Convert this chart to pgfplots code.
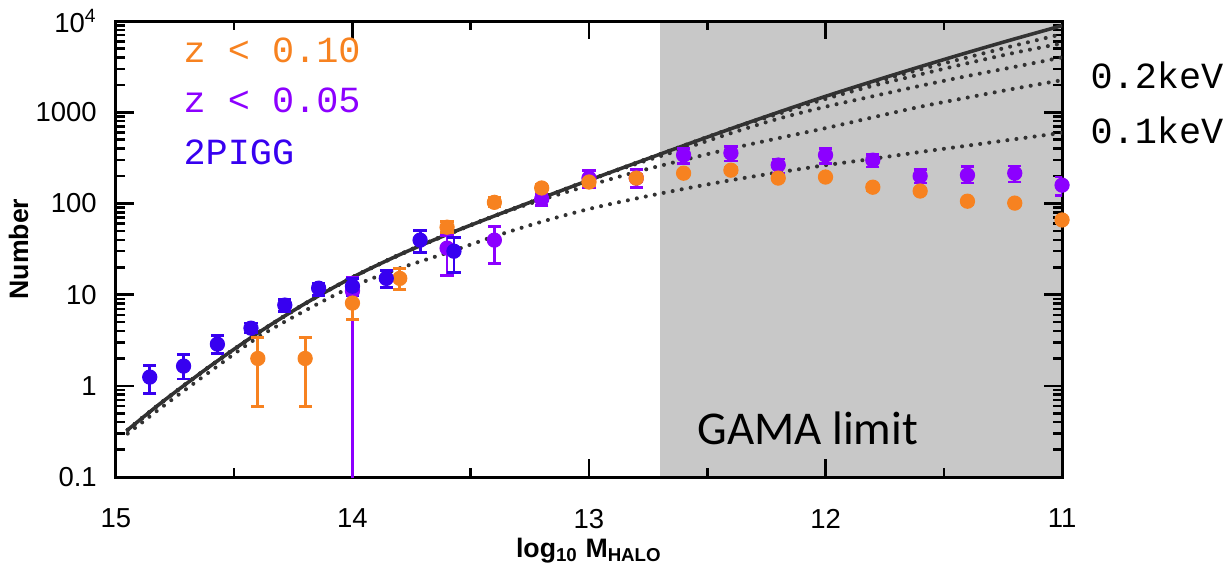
\documentclass[border=0pt]{standalone}
\usepackage{fontspec}
\setmainfont{Liberation Sans}
\newfontfamily\monofont{Liberation Mono}
\newfontfamily\calibfont{Carlito}
\usepackage{pgfplots}
\usepackage{pgfplotstable}
\pgfplotsset{compat=1.18}

\definecolor{zorange}{RGB}{247,130,32}
\definecolor{zpurple}{RGB}{140,0,255}
\definecolor{pigg}{RGB}{55,0,240}
\definecolor{gamagray}{RGB}{200,200,200}
\definecolor{model}{RGB}{50,50,50}

% model cumulative counts: S = full, D0..D3 = increasing temperature cuts, D4 = 0.1keV
\pgfplotstableread{
x     S     D0    D1    D2    D3    D4
14.95 0.33  0.33  0.33  0.33  0.33  0.30
14.8  0.68  0.68  0.68  0.68  0.68  0.60
14.6  1.66  1.66  1.66  1.66  1.66  1.45
14.4  3.8   3.8   3.8   3.8   3.8   3.4
14.2  8.0   8.0   8.0   8.0   8.0   6.7
14.0  15.5  15.5  15.5  15.5  15.5  12.3
13.8  27.5  27.5  27.5  27.5  27.5  19.5
13.6  45.7  45.7  45.7  45.7  45.7  28.8
13.4  73    73    73    73    73    43.6
13.2  115   115   115   115   110   63.1
13.0  180   180   180   180   158   87.1
12.8  279   279   279   272   222   113.5
12.6  431   431   431   398   300   144.5
12.4  661   661   655   590   400   180
12.2  1000  990   960   850   520   219
12.0  1496  1450  1400  1150  670   263
11.8  2188  2100  1950  1500  880   309
11.6  3162  2950  2600  1950  1150  367
11.4  4519  4000  3450  2500  1450  431
11.2  6383  5400  4500  3150  1820  507
11.0  8913  7200  5700  4000  2250  596
}\models

% 2PIGG
\pgfplotstableread{
x      y     ep    em
14.857 1.25  0.44  0.42
14.714 1.65  0.58  0.46
14.571 2.87  0.73  0.58
14.429 4.3   0.6   0.5
14.286 7.7   1.2   1.2
14.143 11.8  1.6   1.9
14.000 12.4  2.6   2.5
13.857 15.1  3.5   3.0
13.714 39.7  11.3  10.7
13.571 30    12.7  12.3
}\piggdata

% z < 0.10
\pgfplotstableread{
x    y     ep   em
14.4 2.0   1.4  1.41
14.2 2.0   1.4  1.41
14.0 8.1   3.2  2.7
13.8 15.1  4.1  3.6
13.6 55    9    7
13.4 103   13   11
13.2 148   16   14
13.0 172   16   14
12.8 190   16   14
12.6 215   16   14
12.4 232   18   16
12.2 190   15   13
12.0 195   15   13
11.8 151   12   11
11.6 137   11   10
11.4 106   9    8
11.2 101   8    7
11.0 66    5    5
}\zten

% z < 0.05 (the lower error of the 14.0 bin reaches zero, drawn separately)
\pgfplotstableread{
x    y     ep    em
14.0 11    4.6   0
13.6 32.4  12.6  16
13.4 39.7  16.3  17.7
13.2 112   14    17
13.0 190   42    39
12.8 190   48    39
12.6 340   65    63
12.4 357   61    65
12.2 264   43    49
12.0 340   60    63
11.8 299   48    47
11.6 200   38    32
11.4 205   47    37
11.2 215   43    43
11.0 159   36    36
}\zfive

\begin{document}
\begin{tikzpicture}
\begin{axis}[
  set layers,
  scale only axis,
  width=372.2pt, height=179.4pt,
  ymode=log,
  xmin=11, xmax=15, x dir=reverse,
  ymin=0.1, ymax=10000,
  clip=true,
  clip marker paths=false,
  axis line style={line width=1.2pt},
  tick style={line width=1pt, black},
  major tick length=7pt,
  minor tick length=3.5pt,
  tick align=inside,
  xtick={11,12,13,14,15},
  xticklabels={11,12,13,14,15},
  minor xtick={11.5,12.5,13.5,14.5},
  ytick={0.1,1,10,100,1000,10000},
  yticklabels={0.1,1,10,100,1000,10\textsuperscript{4}},
  minor ytick={0.2,0.3,0.4,0.5,0.6,0.7,0.8,0.9,2,3,4,5,6,7,8,9,20,30,40,50,60,70,80,90,200,300,400,500,600,700,800,900,2000,3000,4000,5000,6000,7000,8000,9000},
  ticklabel style={font=\fontsize{10.8}{12}\selectfont},
  xticklabel style={yshift=-9pt},
  yticklabel style={xshift=-4pt},
  xlabel={\bfseries log\textsubscript{10} M\textsubscript{HALO}},
  ylabel={\bfseries Number},
  label style={font=\fontsize{10.5}{12}\selectfont},
  xlabel style={yshift=3pt},
  ylabel style={yshift=-4pt},
  error bars/error bar style={line width=1.1pt},
  error bars/error mark options={rotate=90, mark size=2.6pt, line width=1.1pt},
  every axis plot/.append style={line join=round},
]
% GAMA limit region, behind the ticks
\addplot[fill=gamagray, draw=none, forget plot, on layer=axis background] coordinates {(12.7,0.1) (12.7,10000) (11,10000) (11,0.1)} -- cycle;

% models
\addplot[model, line width=1.4pt, smooth] table[x=x, y=S] {\models};
\addplot[model, line width=1.6pt, dash pattern=on 0pt off 3.6pt, line cap=round, smooth] table[x=x, y=D0] {\models};
\addplot[model, line width=1.6pt, dash pattern=on 0pt off 3.6pt, line cap=round, smooth] table[x=x, y=D1] {\models};
\addplot[model, line width=1.6pt, dash pattern=on 0pt off 3.6pt, line cap=round, smooth] table[x=x, y=D2] {\models};
\addplot[model, line width=1.6pt, dash pattern=on 0pt off 3.6pt, line cap=round, smooth] table[x=x, y=D3] {\models};
\addplot[model, line width=1.6pt, dash pattern=on 0pt off 3.6pt, line cap=round, smooth] table[x=x, y=D4] {\models};

% data
\addplot[zpurple, line width=1.1pt, forget plot] coordinates {(14,11) (14,0.01)};
\addplot[zpurple, only marks, mark=*, mark size=2.8pt, mark options={draw=zpurple, fill=zpurple},
  error bars/.cd, y dir=both, y explicit]
  table[x=x, y=y, y error plus=ep, y error minus=em] {\zfive};
\addplot[zorange, only marks, mark=*, mark size=2.8pt, mark options={draw=zorange, fill=zorange},
  error bars/.cd, y dir=both, y explicit]
  table[x=x, y=y, y error plus=ep, y error minus=em] {\zten};
\addplot[pigg, only marks, mark=*, mark size=2.8pt, mark options={draw=pigg, fill=pigg},
  error bars/.cd, y dir=both, y explicit]
  table[x=x, y=y, y error plus=ep, y error minus=em] {\piggdata};

% annotations inside the frame
\node[anchor=west, text=zorange, font=\monofont\fontsize{14.5}{16}\selectfont, inner sep=0pt] at (axis description cs:0.071,0.936) {z < 0.10};
\node[anchor=west, text=zpurple, font=\monofont\fontsize{14.5}{16}\selectfont, inner sep=0pt] at (axis description cs:0.071,0.827) {z < 0.05};
\node[anchor=west, text=pigg, font=\monofont\fontsize{14.5}{16}\selectfont, inner sep=0pt] at (axis description cs:0.071,0.713) {2PIGG};
\node[anchor=west, font=\calibfont\fontsize{18.5}{20}\selectfont, inner sep=0pt] at (axis description cs:0.614,0.107) {GAMA limit};

\coordinate (k2) at (axis description cs:1.0296,0.882);
\coordinate (k1) at (axis description cs:1.0296,0.761);
\coordinate (bl) at (axis description cs:0,0);
\coordinate (tr) at (axis description cs:1,1);
\end{axis}
% curve labels outside the frame
\node[anchor=west, font=\monofont\fontsize{14.5}{16}\selectfont, inner sep=0pt] at (k2) {0.2keV};
\node[anchor=west, font=\monofont\fontsize{14.5}{16}\selectfont, inner sep=0pt] at (k1) {0.1keV};
\pgfresetboundingbox
\path (bl) ++(-45.6pt,-34.2pt) coordinate (A);
\path (tr) ++(64.1pt,8.3pt) coordinate (B);
\useasboundingbox (A) rectangle (B);
\end{tikzpicture}
\end{document}
